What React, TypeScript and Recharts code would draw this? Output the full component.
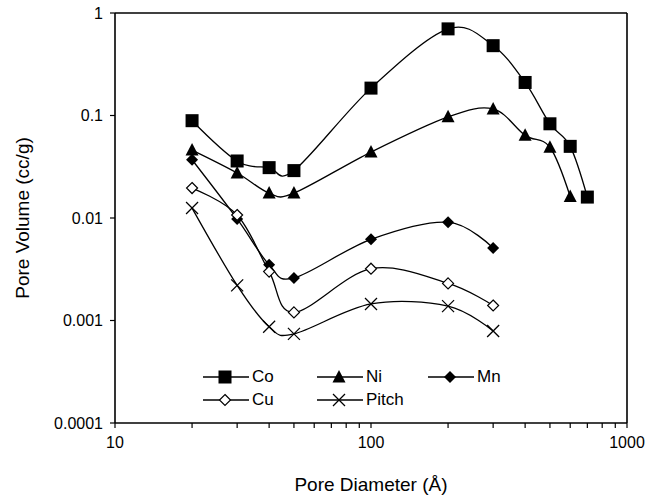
import { LineChart, Line, XAxis, YAxis, Legend, ReferenceLine } from 'recharts';

const coX = [20, 30, 40, 50, 100, 200, 300, 400, 500, 600, 700];
const coY = [0.089, 0.036, 0.031, 0.029, 0.185, 0.7, 0.48, 0.21, 0.083, 0.05, 0.016];
const niX = [20, 30, 40, 50, 100, 200, 300, 400, 500, 600];
const niY = [0.046, 0.0275, 0.0175, 0.0175, 0.044, 0.097, 0.116, 0.064, 0.049, 0.0162];
const mnX = [20, 30, 40, 50, 100, 200, 300];
const mnY = [0.037, 0.0098, 0.0035, 0.0026, 0.0062, 0.0091, 0.0051];
const cuX = [20, 30, 40, 50, 100, 200, 300];
const cuY = [0.0196, 0.0107, 0.003, 0.0012, 0.0032, 0.0023, 0.0014];
const pitchX = [20, 30, 40, 50, 100, 200, 300];
const pitchY = [0.0125, 0.0022, 0.00087, 0.00074, 0.00145, 0.00138, 0.00079];

const xTicks = [10, 20, 30, 40, 50, 60, 70, 80, 90, 100, 200, 300, 400, 500, 600, 700, 800, 900, 1000];
const xLabels = [10, 100, 1000];
const yTicks = [0.0001, 0.001, 0.01, 0.1, 1];

const FONT = '"Liberation Sans", Arial, sans-serif';

type Shape = 'square' | 'triangle' | 'diamond' | 'openDiamond' | 'cross';

const toPoints = (xs: number[], ys: number[]) => xs.map((x, i) => ({ x, y: ys[i] }));

const SERIES: Array<{ name: string; shape: Shape; data: { x: number; y: number }[] }> = [
    { name: 'Co', shape: 'square', data: toPoints(coX, coY) },
    { name: 'Ni', shape: 'triangle', data: toPoints(niX, niY) },
    { name: 'Mn', shape: 'diamond', data: toPoints(mnX, mnY) },
    { name: 'Cu', shape: 'openDiamond', data: toPoints(cuX, cuY) },
    { name: 'Pitch', shape: 'cross', data: toPoints(pitchX, pitchY) },
];

// Excel-like smoothing: Catmull-Rom (cardinal, tension 0)
function excelCurve(context: any) {
    const k = 1 / 6;
    let x0 = NaN, x1 = NaN, x2 = NaN, y0 = NaN, y1 = NaN, y2 = NaN;
    let pt = 0;
    let line = NaN;
    const seg = (x: number, y: number) => {
        context.bezierCurveTo(
            x1 + k * (x2 - x0),
            y1 + k * (y2 - y0),
            x2 + k * (x1 - x),
            y2 + k * (y1 - y),
            x2,
            y2,
        );
    };
    return {
        areaStart() { line = 0; },
        areaEnd() { line = NaN; },
        lineStart() { x0 = x1 = x2 = y0 = y1 = y2 = NaN; pt = 0; },
        lineEnd() {
            if (pt === 2) context.lineTo(x2, y2);
            else if (pt === 3) seg(x1, y1);
            if (line || (line !== 0 && pt === 1)) context.closePath();
            line = 1 - line;
        },
        point(x: number, y: number) {
            x = +x; y = +y;
            switch (pt) {
                case 0:
                    pt = 1;
                    if (line) context.lineTo(x, y); else context.moveTo(x, y);
                    break;
                case 1:
                    pt = 2; x1 = x; y1 = y;
                    break;
                case 2:
                    pt = 3;
                    seg(x, y);
                    break;
                default:
                    seg(x, y);
                    break;
            }
            x0 = x1; x1 = x2; x2 = x;
            y0 = y1; y1 = y2; y2 = y;
        },
    };
}

function Marker({ cx, cy, shape }: { cx: number; cy: number; shape: Shape }) {
    switch (shape) {
        case 'square':
            return <rect x={cx - 6.5} y={cy - 6.5} width={13} height={13} fill="#000" />;
        case 'triangle':
            return <polygon points={`${cx},${cy - 7} ${cx - 6.5},${cy + 5.5} ${cx + 6.5},${cy + 5.5}`} fill="#000" />;
        case 'diamond':
            return <polygon points={`${cx},${cy - 6} ${cx + 6},${cy} ${cx},${cy + 6} ${cx - 6},${cy}`} fill="#000" />;
        case 'openDiamond':
            return (
                <polygon
                    points={`${cx},${cy - 5.5} ${cx + 5.5},${cy} ${cx},${cy + 5.5} ${cx - 5.5},${cy}`}
                    fill="#fff"
                    stroke="#000"
                    strokeWidth={1.2}
                />
            );
        default:
            return (
                <g stroke="#000" strokeWidth={1.3}>
                    <line x1={cx - 6} y1={cy - 6} x2={cx + 6} y2={cy + 6} />
                    <line x1={cx - 6} y1={cy + 6} x2={cx + 6} y2={cy - 6} />
                </g>
            );
    }
}

// legend grid: Co / Ni / Mn on top row, Cu / Pitch below
const LEGEND_COLS = [0, 114, 225];

function renderLegend() {
    return (
        <div style={{ position: 'relative', width: 300, height: 46, fontFamily: FONT, fontSize: 17, color: '#000' }}>
            {SERIES.map((s, i) => {
                const row = i < 3 ? 0 : 1;
                const col = i < 3 ? i : i - 3;
                return (
                    <div
                        key={s.name}
                        style={{
                            position: 'absolute',
                            left: LEGEND_COLS[col],
                            top: row * 23,
                            height: 22,
                            display: 'flex',
                            alignItems: 'center',
                            whiteSpace: 'nowrap',
                        }}
                    >
                        <svg width={46} height={22}>
                            <line x1={0} y1={11} x2={46} y2={11} stroke="#000" strokeWidth={1.3} />
                            <Marker cx={22} cy={11} shape={s.shape} />
                        </svg>
                        <span style={{ marginLeft: 3, lineHeight: '22px' }}>{s.name}</span>
                    </div>
                );
            })}
        </div>
    );
}

const yLabel = (props: any) => {
    const vb = props.viewBox;
    const cy = vb.y + vb.height / 2;
    return (
        <text x={22} y={cy} transform={`rotate(-90, 22, ${cy})`} textAnchor="middle" dominantBaseline="central"
            fontFamily={FONT} fontSize={19} fill="#000">
            Pore Volume (cc/g)
        </text>
    );
};

const xLabel = (props: any) => {
    const vb = props.viewBox;
    return (
        <text x={vb.x + vb.width / 2} y={491} textAnchor="middle" fontFamily={FONT} fontSize={19} fill="#000">
            Pore Diameter (Å)
        </text>
    );
};

export default function App() {
    return (
        <div style={{ position: 'absolute', left: 0, top: 0, width: 647, height: 498, background: '#fff' }}>
            <LineChart width={647} height={498} margin={{ top: 13, right: 20, bottom: 0, left: 0 }}>
                <XAxis
                    dataKey="x"
                    type="number"
                    scale="log"
                    domain={[10, 1000]}
                    allowDataOverflow
                    ticks={xTicks}
                    interval={0}
                    tickFormatter={(v) => (xLabels.includes(v) ? String(v) : '')}
                    tick={{ fontFamily: FONT, fontSize: 16, fill: '#000' }}
                    tickSize={5}
                    tickMargin={9}
                    tickLine={{ stroke: '#000', strokeWidth: 1.2 }}
                    axisLine={{ stroke: '#000', strokeWidth: 1.6 }}
                    height={75}
                    label={xLabel}
                />
                <YAxis
                    type="number"
                    scale="log"
                    domain={[0.0001, 1]}
                    allowDataOverflow
                    ticks={yTicks}
                    interval={0}
                    tickFormatter={(v) => String(v)}
                    tick={{ fontFamily: FONT, fontSize: 16, fill: '#000' }}
                    tickSize={5}
                    tickMargin={7}
                    tickLine={{ stroke: '#000', strokeWidth: 1.2 }}
                    axisLine={{ stroke: '#000', strokeWidth: 1.6 }}
                    width={115}
                    label={yLabel}
                />
                {/* plot frame: top and right edges */}
                <ReferenceLine y={1} stroke="#000" strokeWidth={1.6} ifOverflow="visible" />
                <ReferenceLine x={1000} stroke="#000" strokeWidth={1.6} ifOverflow="visible" />
                <Legend
                    content={renderLegend}
                    layout="vertical"
                    align="center"
                    verticalAlign="middle"
                    wrapperStyle={{ left: 203, top: 366, width: 300, height: 46 }}
                />
                {SERIES.map((s) => (
                    <Line
                        key={s.name}
                        name={s.name}
                        data={s.data}
                        dataKey="y"
                        type={excelCurve as any}
                        stroke="#000"
                        strokeWidth={1.3}
                        isAnimationActive={false}
                        dot={(p: any) => <Marker key={`${s.name}-${p.index}`} cx={p.cx} cy={p.cy} shape={s.shape} />}
                        activeDot={false}
                    />
                ))}
            </LineChart>
        </div>
    );
}
